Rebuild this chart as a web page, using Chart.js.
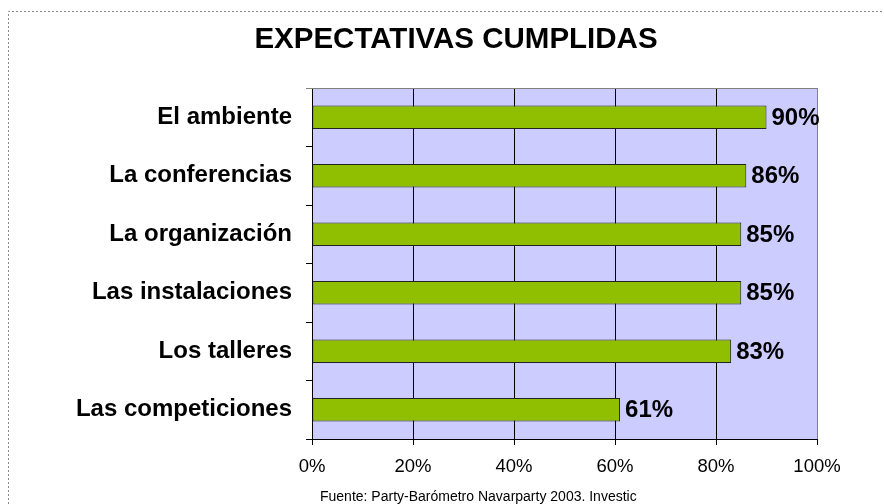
<!DOCTYPE html>
<html>
<head>
<meta charset="utf-8">
<script src="https://cdn.jsdelivr.net/npm/chart.js@4"></script>
<style>
html,body{margin:0;padding:0;background:#fff;}
#wrap{width:884px;height:504px;position:relative;}
</style>
</head>
<body>
<div id="wrap"><canvas id="c" width="884" height="504"></canvas></div>
<script>
const categories = ["El ambiente","La conferencias","La organización","Las instalaciones","Los talleres","Las competiciones"];
const values = [90, 86, 85, 85, 83, 61];
const xTicks = [0, 20, 40, 60, 80, 100];
const titleText = "EXPECTATIVAS CUMPLIDAS";
const footerText = "Fuente: Party-Barómetro Navarparty 2003. Investic";

const FONT = "'Liberation Sans', Arial, sans-serif";

const decor = {
  id: 'decor',
  beforeDraw(chart) {
    const ctx = chart.ctx;
    ctx.save();
    ctx.fillStyle = '#fff';
    ctx.fillRect(0, 0, chart.width, chart.height);
    ctx.strokeStyle = '#888';
    ctx.lineWidth = 1;
    ctx.setLineDash([2, 2]);
    ctx.beginPath();
    ctx.moveTo(8.5, 504); ctx.lineTo(8.5, 11.5); ctx.lineTo(884, 11.5);
    ctx.stroke();
    ctx.setLineDash([]);
    const a = chart.chartArea;
    ctx.fillStyle = '#CCCCFF';
    ctx.fillRect(a.left, a.top, a.right - a.left, a.bottom - a.top);
    ctx.restore();
  },
  afterDraw(chart) {
    const ctx = chart.ctx;
    const a = chart.chartArea;
    ctx.save();
    ctx.strokeStyle = '#808080';
    ctx.lineWidth = 1;
    ctx.beginPath();
    ctx.moveTo(a.left - 6, Math.round(a.top) + 0.5);
    ctx.lineTo(a.right, Math.round(a.top) + 0.5);
    ctx.stroke();
    ctx.fillStyle = '#000';
    ctx.font = "bold 29.5px " + FONT;
    ctx.textAlign = 'center';
    ctx.textBaseline = 'middle';
    ctx.fillText(titleText, 456, 40);
    ctx.font = "14px " + FONT;
    ctx.textAlign = 'left';
    ctx.fillText(footerText, 320, 497);
    ctx.font = "bold 24px " + FONT;
    ctx.textBaseline = 'middle';
    const meta = chart.getDatasetMeta(0);
    meta.data.forEach((bar, i) => {
      ctx.fillText(values[i] + '%', bar.x + 5, bar.y + 1);
    });
    ctx.restore();
  }
};

new Chart(document.getElementById('c'), {
  type: 'bar',
  data: {
    labels: categories,
    datasets: [{
      data: values,
      backgroundColor: '#8FBF00',
      borderColor: '#222',
      borderWidth: 1,
      borderSkipped: false,
      categoryPercentage: 0.4,
      barPercentage: 1.0
    }]
  },
  options: {
    indexAxis: 'y',
    responsive: false,
    animation: false,
    layout: { padding: { top: 88, right: 67, bottom: 0, left: 0 } },
    plugins: { legend: { display: false }, tooltip: { enabled: false }, title: { display: false } },
    scales: {
      x: {
        min: 0, max: 100,
        afterBuildTicks(scale) { scale.ticks = xTicks.map(v => ({ value: v })); },
        afterFit(scale) { scale.height = 65; },
        border: { display: true, color: '#000', width: 1 },
        grid: {
          color: ctx => (ctx.tick && ctx.tick.value === 100) ? '#808080' : '#000',
          lineWidth: 1,
          drawTicks: true,
          tickLength: 6,
          tickColor: '#000'
        },
        ticks: {
          color: '#000',
          font: { family: FONT, size: 18.5 },
          padding: 11,
          callback: v => v + '%'
        }
      },
      y: {
        afterFit(scale) { scale.width = 312; },
        border: { display: true, color: '#000', width: 1 },
        grid: {
          offset: true,
          drawOnChartArea: false,
          drawTicks: true,
          tickLength: 6,
          tickColor: '#000'
        },
        ticks: {
          color: '#000',
          font: { family: FONT, size: 24, weight: 'bold' },
          padding: 14
        }
      }
    }
  },
  plugins: [decor]
});
</script>
</body>
</html>
